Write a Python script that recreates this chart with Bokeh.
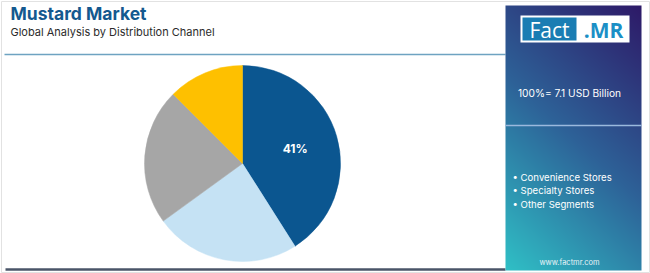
import math
import numpy as np
from bokeh.plotting import figure
from bokeh.models import Range1d, ColumnDataSource
from bokeh.core.properties import value
from bokeh.embed import file_html
from bokeh.resources import INLINE

# ---- data ----
title = "Mustard Market"
subtitle = "Global Analysis by Distribution Channel"
segments = ["Segment A", "Segment B", "Segment C", "Segment D"]
shares = [41, 24, 22.5, 12.5]
slice_labels = ["41%", "", "", ""]
slice_colors = ["#0b5690", "#c5e2f4", "#a6a6a6", "#fec000"]
legend_items = ["Convenience Stores", "Specialty Stores", "Other Segments"]
total_text = "100%= 7.1 USD Billion"
site_text = "www.factmr.com"

W, H = 650, 273
def Y(y):
    return H - y

p = figure(width=W, height=H, x_range=Range1d(0, W), y_range=Range1d(0, H),
           output_backend="svg", toolbar_location=None, min_border=0)
p.axis.visible = False
p.grid.visible = False
p.outline_line_color = None
p.background_fill_color = "white"
p.border_fill_color = "white"

# outer border
p.rect(x=[W / 2], y=[H / 2], width=[W - 2], height=[H - 2], fill_color=None,
       line_color="#e2e2e2", line_width=1)

# title
p.text(x=[10], y=[Y(13)], text=[title], text_font=value("Inter"), text_font_style="bold",
       text_font_size="17.5px", text_color="#14598f", text_baseline="middle")
p.text(x=[10], y=[Y(31)], text=[subtitle], text_font=value("Inter"),
       text_font_size="11px", text_color="#2b2b2b", text_baseline="middle")

# lines
p.segment(x0=[4], y0=[Y(54)], x1=[505], y1=[Y(54)], line_color="#6ea3c1", line_width=1.5)
p.segment(x0=[5], y0=[Y(269)], x1=[505], y1=[Y(269)], line_color="#4a5568", line_width=2.5)

# pie
cx, cy, r = 242, Y(163), 98
tot = sum(shares)
starts, ends, lx, ly = [], [], [], []
cum = 0.0
for s in shares:
    a0 = math.pi / 2 - cum / tot * 2 * math.pi
    cum += s
    a1 = math.pi / 2 - cum / tot * 2 * math.pi
    starts.append(a0)
    ends.append(a1)
    mid = (a0 + a1) / 2
    lx.append(cx + 0.56 * r * math.cos(mid))
    ly.append(cy + 0.56 * r * math.sin(mid))
src = ColumnDataSource(dict(seg=segments, start=starts, end=ends, color=slice_colors,
                            lx=lx, ly=ly, lab=slice_labels))
p.wedge(x=cx, y=cy, radius=r, start_angle="start", end_angle="end", direction="clock",
        fill_color="color", line_color="color", line_width=0.5, source=src)
p.text(x="lx", y="ly", text="lab", source=src, text_font=value("Inter"), text_font_style="bold",
       text_font_size="12px", text_color="white", text_align="center", text_baseline="middle")

# right panel gradient
px0, px1, py0, py1 = 505, 641, 5, 270
pw, ph = px1 - px0, py1 - py0
u = np.linspace(0, 1, pw)[None, :]
v = np.linspace(0, 1, ph)[:, None]  # 0 bottom, 1 top
t = np.clip(0.68 * v + 0.32 * u, 0, 1)
c0 = np.array([48, 192, 198])
c1 = np.array([45, 98, 152])
c2 = np.array([45, 26, 104])
img = np.zeros((ph, pw, 4), dtype=np.uint8)
for k in range(3):
    lo = c0[k] + (c1[k] - c0[k]) * (t / 0.5)
    hi = c1[k] + (c2[k] - c1[k]) * ((t - 0.5) / 0.5)
    img[:, :, k] = np.where(t < 0.5, lo, hi).astype(np.uint8)
img[:, :, 3] = 255
p.image_rgba(image=[img.view(dtype=np.uint32).reshape((ph, pw))], x=px0, y=Y(py1), dw=pw, dh=ph)

# logo
p.quad(left=[520], right=[629], top=[Y(15)], bottom=[Y(42)], fill_color="white", line_color=None)
p.quad(left=[522], right=[576], top=[Y(17)], bottom=[Y(40)], fill_color="#1a7db3", line_color=None)
p.text(x=[549], y=[Y(29)], text=["Fact"], text_font=value("Open Sans"), text_font_size="21px",
       text_color="white", text_align="center", text_baseline="middle")
p.text(x=[603], y=[Y(29)], text=[".MR"], text_font=value("Open Sans"), text_font_style="bold",
       text_font_size="21px", text_color="#1b8fc6", text_align="center", text_baseline="middle")

# panel texts
p.text(x=[569], y=[Y(92)], text=[total_text], text_font=value("Inter"), text_font_size="10.2px",
       text_color="white", text_align="center", text_baseline="middle")
p.segment(x0=[505], y0=[Y(125)], x1=[641], y1=[Y(125)], line_color="#9ab9dd", line_width=1.5)
ys = [Y(177 + 13.3 * i) for i in range(len(legend_items))]
p.text(x=[512] * len(legend_items), y=ys, text=["\u2022 " + s for s in legend_items],
       text_font=value("Inter"), text_font_size="9.6px", text_color="white",
       text_baseline="middle")
p.text(x=[569], y=[Y(262)], text=[site_text], text_font=value("Inter"), text_font_size="7.5px",
       text_color="#e8f4f8", text_align="center", text_baseline="middle")

open("out.html", "w").write(file_html(p, INLINE))
